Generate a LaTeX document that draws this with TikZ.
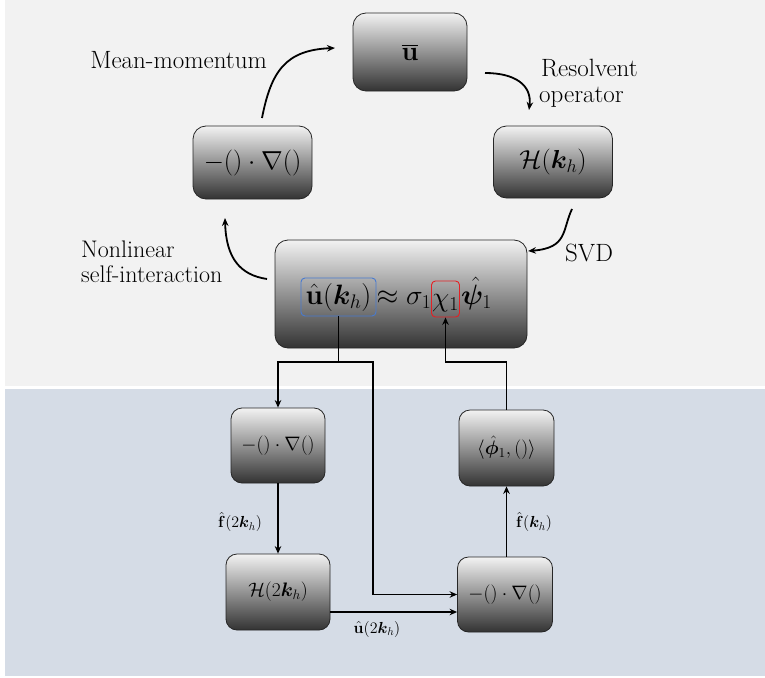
\RequirePackage{fix-cm}
\documentclass[tikz,border=0pt]{standalone}
\usepackage{amsmath,bm}
\usetikzlibrary{arrows.meta,calc}

\definecolor{topbg}{RGB}{242,242,242}
\definecolor{botbg}{RGB}{213,220,230}
\definecolor{ublue}{RGB}{72,122,208}
\definecolor{chired}{RGB}{228,32,36}

\tikzset{
  opbox/.style={draw=black!85, line width=0.8pt, top color=white!95!black,
                bottom color=black!80, inner sep=0pt},
  topbox/.style={opbox, rounded corners=13pt, font=\fontsize{26}{30}\selectfont},
  lowbox/.style={opbox, rounded corners=11pt, font=\fontsize{19.5}{23}\selectfont,
                 minimum width=95pt, minimum height=75pt},
  eqfont/.style={font=\fontsize{28}{32}\selectfont, inner sep=0pt},
  wire/.style={line width=1.3pt},
  wirearrow/.style={wire, -{Stealth[length=7.5pt,width=6.5pt]}},
  swoop/.style={line width=1.8pt, -{Stealth[length=8pt,width=6.5pt]}},
  caption/.style={font=\fontsize{25}{30}\selectfont, inner sep=0pt},
  wirelabel/.style={font=\fontsize{16}{19}\selectfont, inner sep=0pt},
}

\begin{document}
\begin{tikzpicture}[x=1pt,y=-1pt]
\useasboundingbox (0,0) rectangle (765,677);

% two background bands
\fill[topbg] (5,0) rectangle (765,386);
\fill[botbg] (5,389) rectangle (765,676);

% ---- upper cycle ----
\node[topbox, minimum width=114pt, minimum height=78pt, font=\fontsize{27}{30}\selectfont]
  (ubar) at (410,52) {$\overline{\mathbf{u}}$};
\node[topbox, minimum width=119pt, minimum height=73pt] (adv) at (252.5,162.5) {$-()\cdot\nabla()$};
\node[topbox, minimum width=119pt, minimum height=72pt] (res) at (553,162) {$\mathcal{H}(\bm{k}_h)$};
\node[topbox, minimum width=252pt, minimum height=108pt] (svd) at (401,294) {};

% equation inside the SVD box
\node[eqfont, draw=ublue, line width=0.9pt, rounded corners=4pt,
      minimum width=75pt, minimum height=38pt] (uhat) at (338.5,297) {$\hat{\mathbf{u}}(\bm{k}_h)$};
\node[eqfont, anchor=base] (approx) at (404,304) {$\approx\sigma_1$};
\node[eqfont, draw=chired, line width=0.9pt, rounded corners=4pt,
      minimum width=28pt, minimum height=36pt] (chi) at (445.5,299) {$\vphantom{(}\chi_1$};
\node[eqfont, anchor=base west] (psi) at (461,304) {$\hat{\bm{\psi}}_1$};

% cycle labels
\node[caption, anchor=base east] (mmlabel) at (267,68) {Mean-momentum};
\node[caption, anchor=base west] (rlabelA) at (541,76) {Resolvent};
\node[caption, anchor=base west] (rlabelB) at (539,102) {operator};
\node[caption, anchor=base west] (svdlabel) at (565,261) {SVD};
\node[caption, anchor=base west, font=\fontsize{24}{28}\selectfont] (nlabelA) at (81,257) {Nonlinear};
\node[caption, anchor=base west, font=\fontsize{24}{28}\selectfont] (nlabelB) at (81,282) {self-interaction};

% cycle arrows
\coordinate (mmS) at (262,118);
\coordinate (mmE) at (335,48);
\coordinate (roS) at (485,73);
\coordinate (roE) at (529,110);
\coordinate (svS) at (572,209);
\coordinate (svE) at (528,251);
\coordinate (nlS) at (267,279);
\coordinate (nlE) at (225,218);
\draw[swoop] (mmS) .. controls (271,72) and (285,50) .. (mmE);
\draw[swoop] (roS) .. controls (515,73) and (532,85) .. (roE);
\draw[swoop] (svS) .. controls (562,230) and (568,248) .. (svE);
\draw[swoop] (nlS) .. controls (240,275) and (226,258) .. (nlE);

% ---- lower loop ----
\node[lowbox, minimum width=94pt] (advA) at (278,445.5) {$-()\cdot\nabla()$};
\node[lowbox, minimum width=104pt, minimum height=76pt] (resB) at (278,592) {$\mathcal{H}(2\bm{k}_h)$};
\node[lowbox, minimum height=76pt] (proj) at (506.5,448) {$\langle\hat{\bm{\phi}}_1,()\rangle$};
\node[lowbox] (advB) at (505,594.5) {$-()\cdot\nabla()$};

\coordinate (split) at (338.5,362);
\coordinate (bend) at (373,362);
\coordinate (hout) at ($(resB.east)+(0,20)$);
\draw[wirearrow] (uhat.south) -- (split) -| (advA.north);
\draw[wirearrow] (split) -- (bend) |- (advB.west);
\draw[wirearrow] (advA.south) -- (resB.north);
\draw[wirearrow] (hout) -- (hout -| advB.west);
\draw[wirearrow] (advB.north -| proj.south) -- (proj.south);
\draw[wirearrow] (proj.north) |- (chi.south |- split) -- (chi.south);

% wire labels
\node[wirelabel] (fA) at (240,522) {$\hat{\mathbf{f}}(2\bm{k}_h)$};
\node[wirelabel] (fB) at (534,522) {$\hat{\mathbf{f}}(\bm{k}_h)$};
\node[wirelabel] (uB) at (377,629) {$\hat{\mathbf{u}}(2\bm{k}_h)$};
\end{tikzpicture}
\end{document}
